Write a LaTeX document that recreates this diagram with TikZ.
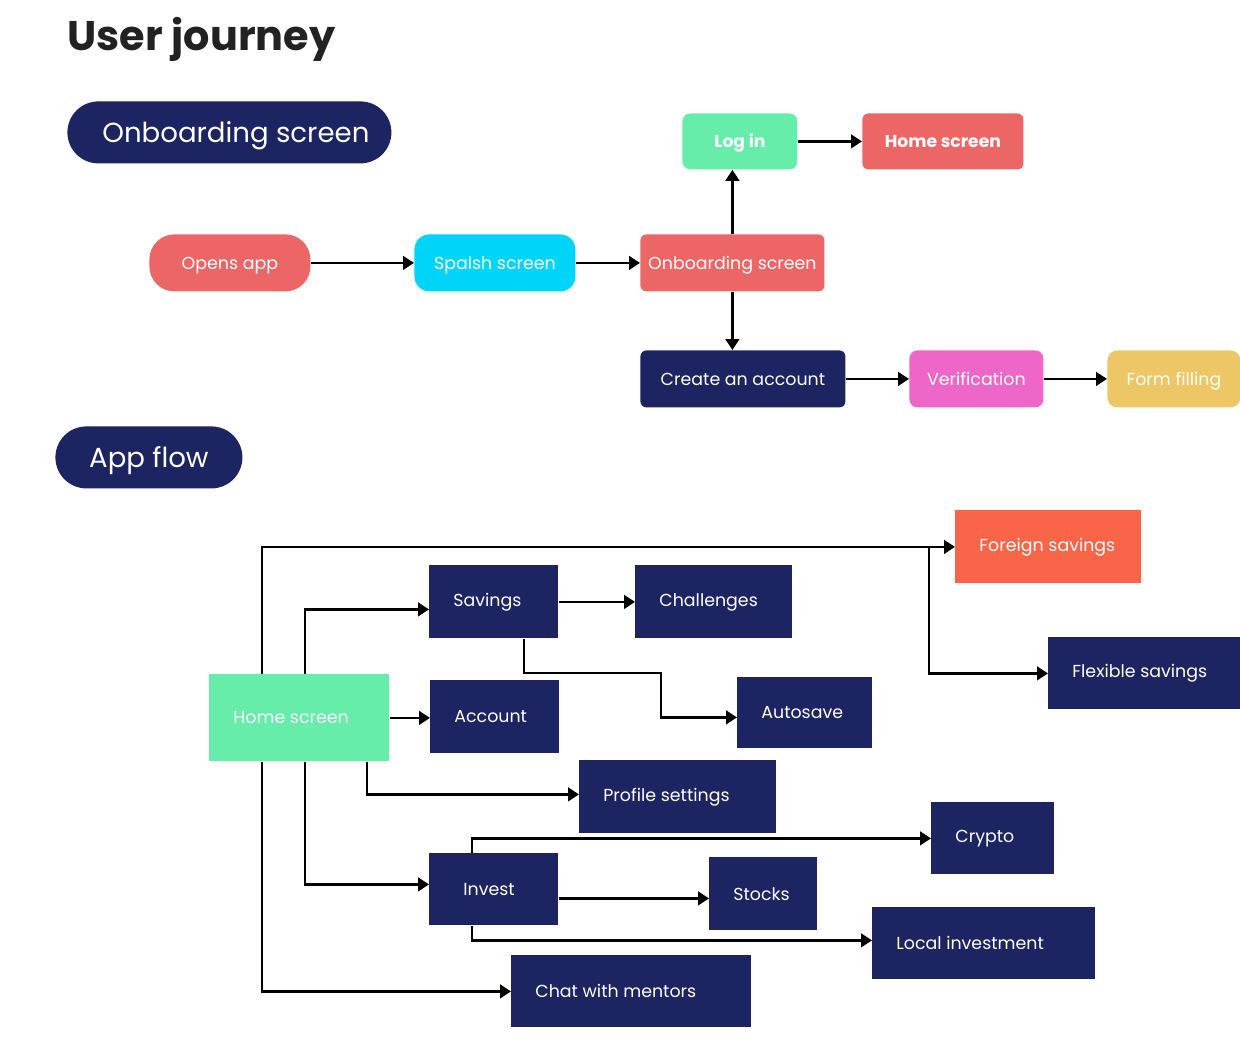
\documentclass[tikz,border=0pt]{standalone}
\usepackage{fontspec}
\setmainfont{Poppins}
\usetikzlibrary{arrows.meta,calc}
\definecolor{navy}{HTML}{1C2461}
\definecolor{salmon}{HTML}{ED6666}
\definecolor{skyc}{HTML}{00D5F9}
\definecolor{mint}{HTML}{65EDA9}
\definecolor{pinkc}{HTML}{ED66C8}
\definecolor{yellowc}{HTML}{EDC766}
\definecolor{orangec}{HTML}{F96549}
\definecolor{titlec}{HTML}{222222}
\newcommand\myleft[2]{\makebox[#1][l]{#2}}
\begin{document}
\begin{tikzpicture}[x=0.5pt,y=-0.5pt,
  conn/.style={line width=1.3pt, -{Triangle[length=5.5pt,width=6.8pt]}},
  topbox/.style={anchor=north west, inner sep=0pt, text=white, font=\fontsize{8.7}{11}\selectfont, minimum height=28.5pt, text height=7.4pt, text depth=1pt},
  boldtxt/.style={font=\fontsize{8.6}{11}\selectfont\bfseries},
  flowbox/.style={anchor=north west, inner xsep=12pt, inner ysep=0pt, text=white, fill=navy, font=\fontsize{8.7}{11}\selectfont, minimum height=36.5pt},
  pill/.style={anchor=north west, inner sep=0pt, fill=navy, text=white, rounded corners=15.5pt, minimum height=31pt, font=\fontsize{13.8}{17}\selectfont, text height=12pt, text depth=1.5pt}]
\useasboundingbox (0,0) rectangle (1240,1055);
% titles
\node[anchor=base west, inner sep=0pt, text=titlec, font=\fontsize{20.7}{25}\selectfont\bfseries] (title) at (67,50) {User journey};
\node[pill, minimum width=162pt] (hdr1) at (67,101) {\hspace*{6.5pt}Onboarding screen};
\node[pill, minimum width=93.5pt] (hdr2) at (55,426) {App flow};
% onboarding flow
\node[topbox, fill=salmon, rounded corners=12.5pt, minimum width=80.5pt] (opens) at (149,234) {Opens app};
\node[topbox, fill=skyc, rounded corners=7.5pt, minimum width=80.5pt] (splash) at (414,234) {Spalsh screen};
\node[topbox, fill=salmon, rounded corners=3pt, minimum width=92pt] (onb) at (640,234) {Onboarding screen};
\node[topbox, boldtxt, fill=mint, rounded corners=4pt, minimum width=57.5pt, minimum height=28pt] (login) at (682,113) {Log in};
\node[topbox, boldtxt, fill=salmon, rounded corners=3pt, minimum width=80.5pt, minimum height=28pt] (home1) at (862,113) {Home screen};
\node[topbox, fill=navy, rounded corners=3pt, minimum width=102.5pt] (create) at (640,350) {Create an account};
\node[topbox, fill=pinkc, rounded corners=4pt, minimum width=67pt] (verif) at (909,350) {Verification};
\node[topbox, fill=yellowc, rounded corners=5pt, minimum width=66.5pt] (form) at (1107,350) {Form filling};
\draw[conn] (opens) -- (splash);
\draw[conn] (splash) -- (onb);
\draw[conn] (onb.north) -- (onb.north |- login.south);
\draw[conn] (onb.south) -- (onb.south |- create.north);
\draw[conn] (login) -- (home1);
\draw[conn] (create) -- (verif);
\draw[conn] (verif) -- (form);
% app flow
\node[flowbox, fill=mint, minimum height=43.5pt] (home) at (209,674) {\myleft{66pt}{Home screen}};
\node[flowbox] (savings) at (429,565) {\myleft{40.5pt}{Savings}};
\node[flowbox] (challenges) at (635,565) {\myleft{54.5pt}{Challenges}};
\node[flowbox] (account) at (430,680) {\myleft{40.5pt}{Account}};
\node[flowbox, minimum height=35.5pt] (autosave) at (737,677) {\myleft{43.5pt}{Autosave}};
\node[flowbox] (profile) at (579,760) {\myleft{74.5pt}{Profile settings}};
\node[flowbox, fill=orangec] (foreign) at (955,510) {\myleft{69pt}{Foreign savings}};
\node[flowbox, minimum height=36pt] (flexible) at (1048,637) {\myleft{72pt}{Flexible savings}};
\node[flowbox, minimum height=36pt] (crypto) at (931,802) {\myleft{37.5pt}{Crypto}};
\node[flowbox, minimum height=36pt] (invest) at (429,853) {\myleft{40.5pt}{\hspace*{5pt}Invest}};
\node[flowbox] (stocks) at (709,857) {\myleft{30pt}{Stocks}};
\node[flowbox, minimum height=36pt] (local) at (872,907) {\myleft{87.5pt}{Local investment}};
\node[flowbox, minimum height=36pt] (chat) at (511,955) {\myleft{96pt}{Chat with mentors}};
\draw[conn] ([xshift=26.5pt]home.north west) |- (foreign.west);
\draw[conn] ([xshift=-13pt]foreign.west) |- (flexible.west);
\draw[conn] ([xshift=48pt]home.north west) |- ([yshift=-3.75pt]savings.west);
\draw[conn] (savings.east) -- (challenges.west);
\draw[conn] ([xshift=47.5pt]savings.south west) -- ++(0,34) -- ++(137,0) |- ([yshift=-2.25pt]autosave.west);
\draw[conn] (home.east) -- (home.east -| account.west);
\draw[conn] ([xshift=79pt]home.south west) |- ([yshift=1.25pt]profile.west);
\draw[conn] ([xshift=48pt]home.south west) |- ([yshift=2.5pt]invest.west);
\draw[conn] ([xshift=26.5pt]home.south west) |- (chat.west);
\draw[conn] ([xshift=21.5pt]invest.north west) |- (crypto.west);
\draw[conn] ([yshift=-4.5pt]invest.east) -- ([yshift=-4.5pt]invest.east -| stocks.west);
\draw[conn] ([xshift=21.5pt]invest.south west) |- ([yshift=1.5pt]local.west);
\end{tikzpicture}
\end{document}
